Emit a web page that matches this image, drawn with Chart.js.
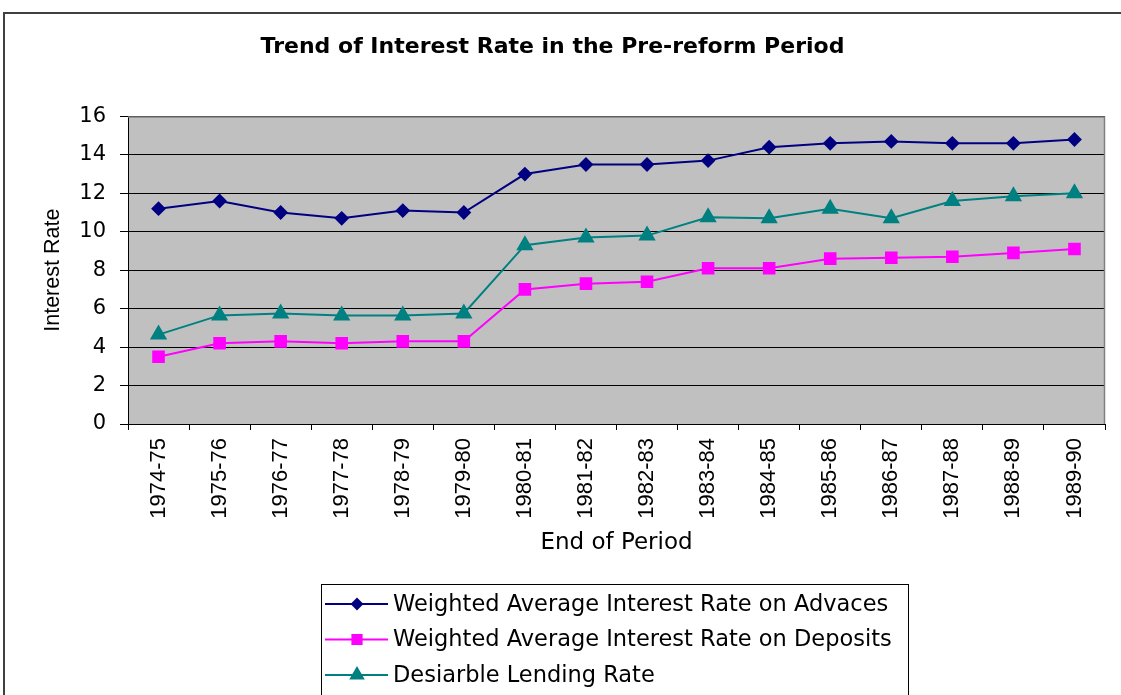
<!DOCTYPE html>
<html>
<head>
<meta charset="utf-8">
<script src="https://cdn.jsdelivr.net/npm/chart.js@4/dist/chart.umd.min.js"></script>
<style>
  body { margin: 0; background: #fff; }
  #chart { display: block; }
</style>
</head>
<body>
<canvas id="chart" width="1121" height="695"></canvas>
<script>
// Periods on the x axis
const periods = ['1974-75', '1975-76', '1976-77', '1977-78', '1978-79', '1979-80', '1980-81', '1981-82',
                 '1982-83', '1983-84', '1984-85', '1985-86', '1986-87', '1987-88', '1988-89', '1989-90'];

// Series values
const advances = [11.2, 11.6, 11.0, 10.7, 11.1, 11.0, 13.0, 13.5, 13.5, 13.7, 14.4, 14.6, 14.7, 14.6, 14.6, 14.8];
const deposits = [3.5, 4.2, 4.3, 4.2, 4.3, 4.3, 7.0, 7.3, 7.4, 8.1, 8.1, 8.6, 8.65, 8.7, 8.9, 9.1];
const lending = [4.65, 5.65, 5.75, 5.65, 5.65, 5.75, 9.3, 9.7, 9.8, 10.75, 10.7, 11.2, 10.7, 11.6, 11.85, 12.0];

const seriesNames = ['Weighted Average Interest Rate on Advaces',
                     'Weighted Average Interest Rate on Deposits',
                     'Desiarble Lending Rate'];

Chart.defaults.font.family = 'DejaVu Sans';
Chart.defaults.color = '#000';

// white page, grey plot area and the outer frame
const backgroundPlugin = {
    id: 'background',
    beforeDraw(chart) {
        const ctx = chart.ctx;
        const a = chart.chartArea;
        ctx.save();
        ctx.fillStyle = '#fff';
        ctx.fillRect(0, 0, chart.width, chart.height);
        ctx.strokeStyle = '#404040';
        ctx.lineWidth = 2;
        ctx.strokeRect(4, 13, chart.width + 10, chart.height + 10);
        ctx.fillStyle = '#c0c0c0';
        ctx.fillRect(a.left, a.top, a.right - a.left, a.bottom - a.top);
        ctx.restore();
    },
    beforeDatasetsDraw(chart) {
        // grey top and right edge of the plot
        const ctx = chart.ctx;
        const a = chart.chartArea;
        ctx.save();
        ctx.strokeStyle = '#808080';
        ctx.lineWidth = 1.5;
        ctx.beginPath();
        ctx.moveTo(a.left, a.top + 0.5);
        ctx.lineTo(a.right - 0.5, a.top + 0.5);
        ctx.lineTo(a.right - 0.5, a.bottom);
        ctx.stroke();
        ctx.restore();
    }
};

// boxed legend drawn below the axis title
const boxLegendPlugin = {
    id: 'boxLegend',
    afterDraw(chart) {
        const ctx = chart.ctx;
        const left = 321, top = 584;
        ctx.save();
        ctx.fillStyle = '#fff';
        ctx.strokeStyle = '#000';
        ctx.lineWidth = 1;
        ctx.fillRect(left, top, 587, 200);
        ctx.strokeRect(left + 0.5, top + 0.5, 587, 200);
        chart.data.datasets.forEach(function(ds, i) {
            const y = 604 + i * 35.5;
            ctx.strokeStyle = ds.borderColor;
            ctx.lineWidth = 2;
            ctx.beginPath();
            ctx.moveTo(325, y);
            ctx.lineTo(388, y);
            ctx.stroke();
            ctx.fillStyle = ds.pointBackgroundColor;
            ctx.strokeStyle = ds.borderColor;
            Chart.helpers.drawPoint(ctx, {
                pointStyle: ds.pointStyle,
                radius: ds.pointRadius - 1,
                rotation: 0,
                borderWidth: 1
            }, 357, y);
            ctx.fillStyle = '#000';
            ctx.font = '22.5px "DejaVu Sans"';
            ctx.textAlign = 'left';
            ctx.textBaseline = 'middle';
            ctx.fillText(ds.label, 393, y + 1);
        });
        ctx.restore();
    }
};

const ctx = document.getElementById('chart').getContext('2d');
const chart = new Chart(ctx, {
    type: 'line',
    data: {
        labels: periods,
        datasets: [
            {
                label: seriesNames[0],
                data: advances,
                borderColor: '#000080',
                backgroundColor: '#000080',
                pointBackgroundColor: '#000080',
                pointStyle: 'rectRot',
                pointRadius: 6,
                borderWidth: 2,
                tension: 0
            },
            {
                label: seriesNames[1],
                data: deposits,
                borderColor: '#ff00ff',
                backgroundColor: '#ff00ff',
                pointBackgroundColor: '#ff00ff',
                pointStyle: 'rect',
                pointRadius: 7.5,
                borderWidth: 2,
                tension: 0
            },
            {
                label: seriesNames[2],
                data: lending,
                borderColor: '#008080',
                backgroundColor: '#008080',
                pointBackgroundColor: '#008080',
                pointStyle: 'triangle',
                pointRadius: 8,
                borderWidth: 2,
                tension: 0
            }
        ]
    },
    options: {
        responsive: false,
        animation: false,
        layout: {
            padding: { left: 0, right: 16, top: 0, bottom: 136 }
        },
        plugins: {
            legend: { display: false },
            tooltip: { enabled: false },
            title: {
                display: true,
                text: 'Trend of Interest Rate in the Pre-reform Period',
                font: { family: 'DejaVu Sans', size: 22, weight: 'bold' },
                color: '#000',
                padding: { top: 34, bottom: 56 }
            }
        },
        scales: {
            x: {
                offset: true,
                grid: {
                    offset: true,
                    drawOnChartArea: false,
                    drawTicks: true,
                    tickLength: 6,
                    color: '#000'
                },
                border: { display: true, color: '#000', width: 1 },
                ticks: {
                    autoSkip: false,
                    minRotation: 90,
                    maxRotation: 90,
                    padding: 8,
                    font: { family: 'Liberation Sans', size: 22 }
                },
                title: {
                    display: true,
                    text: 'End of Period',
                    font: { family: 'DejaVu Sans', size: 23 },
                    padding: { top: 0, bottom: 2 }
                },
                afterFit(scale) {
                    scale.height = 135;
                }
            },
            y: {
                min: 0,
                max: 16,
                grid: {
                    color: '#000',
                    lineWidth: 1,
                    drawTicks: true,
                    tickLength: 8
                },
                border: { display: true, color: '#000', width: 1 },
                ticks: {
                    stepSize: 2,
                    padding: 14,
                    font: { family: 'DejaVu Sans', size: 21 }
                },
                title: {
                    display: true,
                    text: 'Interest Rate',
                    font: { family: 'Liberation Sans', size: 21.5 },
                    padding: { top: 40, bottom: 0 }
                },
                afterFit(scale) {
                    scale.width = 128;
                }
            }
        }
    },
    plugins: [backgroundPlugin, boxLegendPlugin]
});
</script>
</body>
</html>
